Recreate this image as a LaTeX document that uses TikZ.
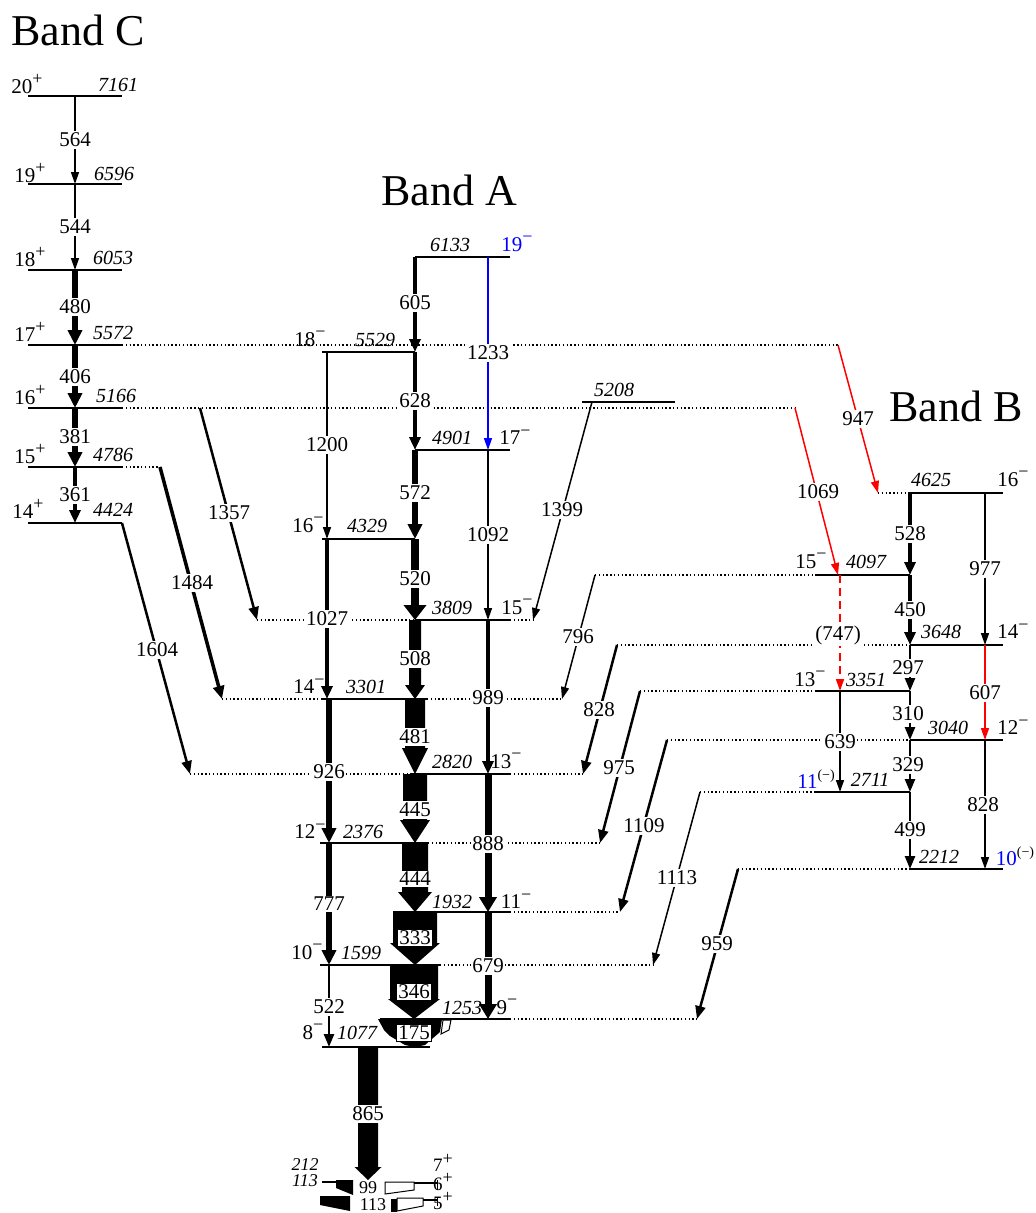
\documentclass[tikz,border=0pt]{standalone}
\usepackage{fontspec}
\setmainfont{Liberation Serif}
\usetikzlibrary{arrows.meta}
\newcommand\numf{\fontsize{21}{24}\selectfont}
\newcommand\itf{\fontsize{20}{24}\selectfont\itshape}
\newcommand\ttlf{\fontsize{44}{50}\selectfont}
\newcommand\msup{\raisebox{0.40em}{\fontsize{18}{18}\selectfont −}}
\newcommand\psup{\raisebox{0.40em}{\fontsize{18}{18}\selectfont +}}
\newcommand\bsup{\raisebox{0.45em}{\fontsize{14}{14}\selectfont (−)}}
\newcommand\fatarr[6]{%
  \fill ({#1-#4/2},#2) -- ({#1+#4/2},#2) -- ({#1+#4/2},{#3-#6}) -- ({#1+#5/2},{#3-#6}) -- (#1,#3) -- ({#1-#5/2},{#3-#6}) -- ({#1-#4/2},{#3-#6}) -- cycle;}
\begin{document}
\begin{tikzpicture}[x=1pt,y=-1pt,
  levl/.style={line width=1.2pt},
  dotl/.style={line width=1.2pt, dash pattern=on 1.3pt off 2.5pt},
  tl/.style={fill=white, inner sep=1.5pt, font=\numf},
  bx/.style={fill=white, draw, line width=1pt, inner sep=1.5pt, font=\numf},
  en/.style={inner sep=0pt, font=\itf},
  sp/.style={inner sep=0pt, font=\numf},
  ttl/.style={inner sep=0pt, font=\ttlf},
  g1/.style={line width=1.5pt, -{Triangle[length=12pt,width=8pt]}},
  g2/.style={line width=2.5pt, -{Triangle[length=13pt,width=10pt]}},
  g3/.style={line width=3.5pt, -{Triangle[length=13pt,width=11pt]}},
  g4/.style={line width=5.5pt, -{Triangle[length=15pt,width=14pt]}},
  g5/.style={line width=7pt, -{Triangle[length=15pt,width=17pt]}},
  g6/.style={line width=8.5pt, -{Triangle[length=15pt,width=22pt]}},
  rd/.style={draw=red, color=red},
  bl/.style={draw=blue, color=blue}]
\useasboundingbox (0,0) rectangle (1036,1213);

% ---------------- titles
\node[ttl] (tC) at (78,30) {Band C};
\node[ttl] (tA) at (449,190) {Band A};
\node[ttl] (tB) at (956,406) {Band B};

% ---------------- dotted connection lines
\draw[dotl] (122,345) -- (838,345);
\draw[dotl] (122,408) -- (795,408);
\draw[dotl] (122,467) -- (160,467);
\draw[dotl] (257,620) -- (415,620);
\draw[dotl] (510,620) -- (533,620);
\draw[dotl] (222,699) -- (322,699);
\draw[dotl] (427,699) -- (562,699);
\draw[dotl] (190,774) -- (410,774);
\draw[dotl] (510,774) -- (583,774);
\draw[dotl] (428,843) -- (600,843);
\draw[dotl] (510,912) -- (620,912);
\draw[dotl] (440,965) -- (653,965);
\draw[dotl] (510,1019) -- (697,1019);
\draw[dotl] (878,493) -- (910,493);
\draw[dotl] (595,575) -- (815,575);
\draw[dotl] (617,645) -- (910,645);
\draw[dotl] (640,691) -- (815,691);
\draw[dotl] (667,740) -- (910,740);
\draw[dotl] (700,792) -- (815,792);
\draw[dotl] (738,869) -- (910,869);

% ---------------- Band C levels
\foreach \y in {96,184,270,345,408,467,523} \draw[levl] (28,\y) -- (122,\y);
\node[sp] (s20) at (27,84) {20\psup};  \node[en] (e7161) at (118,85) {7161};
\node[sp] (s19) at (30,173) {19\psup}; \node[en] (e6596) at (114,174) {6596};
\node[sp] (s18) at (30,257) {18\psup}; \node[en] (e6053) at (113,258) {6053};
\node[sp] (s17) at (30,332) {17\psup}; \node[en] (e5572) at (113,333) {5572};
\node[sp] (s16) at (30,395) {16\psup}; \node[en] (e5166) at (116,396) {5166};
\node[sp] (s15) at (30,454) {15\psup}; \node[en] (e4786) at (113,455) {4786};
\node[sp] (s14) at (28,509) {14\psup}; \node[en] (e4424) at (113,510) {4424};

% Band C transitions
\draw[g1] (75,96) -- (75,184);
\draw[g1] (75,184) -- (75,270);
\draw[g4] (75,270) -- (75,345);
\draw[g4] (75,345) -- (75,408);
\draw[g4] (75,408) -- (75,467);
\draw[g3] (75,467) -- (75,523);
\node[tl] (t564) at (75,140) {564};
\node[tl] (t544) at (75,227) {544};
\node[tl] (t480) at (75,307) {480};
\node[tl] (t406) at (75,377) {406};
\node[tl] (t381) at (75,437) {381};
\node[tl] (t361) at (75,495) {361};

% C -> A transitions
\draw[g2] (122,523) -- (190,774);
\draw[g3] (160,467) -- (222,699);
\draw[g2] (200,408) -- (257,620);
\node[tl] (t1604) at (157,650) {1604};
\node[tl] (t1484) at (192,583) {1484};
\node[tl] (t1357) at (229,513) {1357};

% ---------------- Band A levels
\draw[levl] (415,257) -- (510,257);
\draw[levl] (322,352) -- (415,352);
\draw[levl] (415,450) -- (510,450);
\draw[levl] (322,539) -- (415,539);
\draw[levl] (415,620) -- (510,620);
\draw[levl] (322,699) -- (427,699);
\draw[levl] (410,774) -- (510,774);
\draw[levl] (320,843) -- (428,843);
\draw[levl] (393,912) -- (510,912);
\draw[levl] (320,965) -- (440,965);
\draw[levl] (380,1019) -- (510,1019);
\draw[levl] (322,1047) -- (430,1047);
\draw[levl] (582,402) -- (675,402);

\node[en] (e6133) at (450,245) {6133}; \node[sp, text=blue] (s19m) at (517,244) {19\msup};
\node[sp] (s18m) at (310,339) {18\msup}; \node[en] (e5529) at (375,340) {5529};
\node[en] (e4901) at (452,438) {4901}; \node[sp] (s17m) at (515,437) {17\msup};
\node[sp] (s16m) at (308,525) {16\msup}; \node[en] (e4329) at (367,526) {4329};
\node[en] (e3809) at (452,608) {3809}; \node[sp] (s15m) at (517,607) {15\msup};
\node[sp] (s14m) at (309,686) {14\msup}; \node[en] (e3301) at (366,687) {3301};
\node[en] (e2820) at (452,762) {2820}; \node[sp] (s13m) at (506,761) {13\msup};
\node[sp] (s12m) at (310,831) {12\msup}; \node[en] (e2376) at (363,832) {2376};
\node[en] (e1932) at (452,902) {1932}; \node[sp] (s11m) at (516,901) {11\msup};
\node[sp] (s10m) at (307,952) {10\msup}; \node[en] (e1599) at (361,953) {1599};
\node[en] (e1253) at (462,1008) {1253}; \node[sp] (s9m) at (507,1007) {9\msup};
\node[sp] (s8m) at (313,1032) {8\msup}; \node[en] (e1077) at (357,1033) {1077};
\node[en] (e5208) at (614,390) {5208};

% Band A transitions
\draw[g3] (415,257) -- (415,352);
\draw[g1,bl] (488,257) -- (488,450);
\draw[g3] (415,352) -- (415,450);
\draw[g1] (327,352) -- (327,539);
\draw[g4] (415,450) -- (415,539);
\draw[g1] (488,450) -- (488,620);
\draw[g6] (415,539) -- (415,620);
\draw[g3] (327,539) -- (327,699);
\fatarr{415}{620}{699}{12}{20}{14}
\draw[g3] (488,620) -- (488,774);
\fatarr{415}{699}{774}{20}{26}{26}
\draw[g4] (329,699) -- (329,843);
\fatarr{415}{774}{843}{24}{30}{23}
\draw[g5] (488,774) -- (488,912);
\fatarr{415}{843}{912}{26}{34}{20}
\draw[g4] (329,843) -- (329,965);
\fatarr{415}{912}{965}{44}{50}{22}
\draw[g5] (488,912) -- (488,1019);
\fatarr{414}{965}{1019}{48}{52}{20}
\draw[g2] (329,965) -- (329,1047);
% 175
\fill (378,1019) -- (442,1019) -- (440,1032) -- (425,1045) -- (415,1047) -- (405,1045) -- (390,1036) -- (384,1030) -- cycle;
\draw[line width=1pt, fill=white] (443,1020) -- (451,1020) -- (449,1030) -- (441,1034) -- cycle;
% 865
\fatarr{368}{1047}{1180}{20}{27}{13}

\node[tl] (t605) at (415,303) {605};
\node[tl] (t1233) at (488,353) {1233};
\node[tl] (t628) at (415,401) {628};
\node[tl] (t1200) at (327,445) {1200};
\node[tl] (t572) at (415,493) {572};
\node[tl] (t1092) at (488,535) {1092};
\node[tl] (t520) at (415,579) {520};
\node[tl] (t1027) at (327,619) {1027};
\node[tl] (t508) at (415,659) {508};
\node[tl] (t989) at (488,698) {989};
\node[tl] (t481) at (415,737) {481};
\node[tl] (t926) at (329,772) {926};
\node[tl] (t445) at (415,810) {445};
\node[tl] (t888) at (488,844) {888};
\node[tl] (t444) at (415,879) {444};
\node[tl] (t777) at (329,904) {777};
\node[bx] (t333) at (415,938) {333};
\node[tl] (t679) at (488,966) {679};
\node[bx] (t346) at (414,992) {346};
\node[tl] (t522) at (329,1007) {522};
\node[bx] (t175) at (414,1033) {175};
\node[tl] (t865) at (368,1114) {865};

% bottom levels
\draw[levl] (322,1182) -- (336,1182);
\fill (336,1180) -- (353,1180) -- (353,1195) -- (336,1188) -- cycle;
\fill (320,1196) -- (350,1196) -- (350,1211) -- (320,1205) -- cycle;
\draw[line width=1pt, fill=white] (385,1182) -- (414,1182) -- (414,1190) -- (385,1194) -- cycle;
\draw[levl] (414,1183) -- (437,1183);
\draw[line width=1pt] (437,1180) -- (437,1190);
\fill (391,1199) -- (397,1199) -- (397,1212) -- (391,1212) -- cycle;
\draw[line width=1pt, fill=white] (397,1198) -- (423,1198) -- (423,1206) -- (397,1211) -- cycle;
\draw[levl] (423,1200) -- (437,1200);
\draw[line width=1pt] (437,1197) -- (437,1206);
\node[en, font=\fontsize{18}{20}\selectfont\itshape] (e212) at (305,1165) {212};
\node[en, font=\fontsize{18}{20}\selectfont\itshape] (e113) at (305,1181) {113};
\node[inner sep=0pt, font=\fontsize{18}{20}\selectfont] (t99) at (368,1188) {99};
\node[inner sep=0pt, font=\fontsize{18}{20}\selectfont] (t113) at (373,1205) {113};
\node[sp, font=\fontsize{19}{20}\selectfont] (s7) at (443,1163) {7\psup};
\node[sp, font=\fontsize{19}{20}\selectfont] (s6) at (443,1182) {6\psup};
\node[sp, font=\fontsize{19}{20}\selectfont] (s5) at (443,1201) {5\psup};

% ---------------- Band B levels
\draw[levl] (910,493) -- (1003,493);
\draw[levl] (815,575) -- (910,575);
\draw[levl] (910,645) -- (1003,645);
\draw[levl] (815,691) -- (910,691);
\draw[levl] (910,740) -- (1003,740);
\draw[levl] (815,792) -- (910,792);
\draw[levl] (910,869) -- (1003,869);

\node[en] (e4625) at (931,480) {4625}; \node[sp] (s16b) at (1013,479) {16\msup};
\node[sp] (s15b) at (811,561) {15\msup}; \node[en] (e4097) at (866,562) {4097};
\node[en] (e3648) at (941,632) {3648}; \node[sp] (s14b) at (1013,631) {14\msup};
\node[sp] (s13b) at (810,679) {13\msup}; \node[en] (e3351) at (866,680) {3351};
\node[en] (e3040) at (948,728) {3040}; \node[sp] (s12b) at (1013,727) {12\msup};
\node[sp] (s11b) at (816,779) {\textcolor{blue}{11}\bsup}; \node[en] (e2711) at (870,780) {2711};
\node[en] (e2212) at (939,857) {2212}; \node[sp] (s10b) at (1015,856) {\textcolor{blue}{10}\bsup};

% Band B transitions
\draw[g3] (910,493) -- (910,575);
\draw[g1] (985,493) -- (985,645);
\draw[g3] (910,575) -- (910,645);
\draw[g2] (910,645) -- (910,691);
\draw[g1,rd] (985,645) -- (985,740);
\draw[g2] (910,691) -- (910,740);
\draw[g1] (840,691) -- (840,792);
\draw[g2] (910,740) -- (910,792);
\draw[g1] (985,740) -- (985,869);
\draw[g2] (910,792) -- (910,869);
\draw[g1,rd,dash pattern=on 8pt off 5pt] (840,575) -- (840,691);
\draw[g1,rd] (795,408) -- (838,575);
\draw[g1,rd] (838,345) -- (878,493);

\node[tl] (t528) at (910,534) {528};
\node[tl] (t977) at (985,569) {977};
\node[tl] (t450) at (910,610) {450};
\node[tl] (t297) at (908,668) {297};
\node[tl] (t607) at (985,693) {607};
\node[tl] (t310) at (908,714) {310};
\node[tl] (t639) at (840,742) {639};
\node[tl] (t329) at (908,765) {329};
\node[tl] (t828b) at (983,805) {828};
\node[tl] (t499) at (910,830) {499};
\node[tl] (t747) at (838,635) {(747)};
\node[tl] (t1069) at (818,492) {1069};
\node[tl] (t947) at (858,419) {947};

% B -> A transitions
\draw[g1] (592,402) -- (533,620);
\draw[g1] (595,575) -- (562,699);
\draw[g2] (617,645) -- (583,774);
\draw[g2] (640,691) -- (600,843);
\draw[g2] (667,740) -- (620,912);
\draw[g1] (700,792) -- (653,965);
\draw[g2] (738,869) -- (697,1019);
\node[tl] (t1399) at (562,510) {1399};
\node[tl] (t796) at (578,637) {796};
\node[tl] (t828) at (599,710) {828};
\node[tl] (t975) at (619,768) {975};
\node[tl] (t1109) at (644,826) {1109};
\node[tl] (t1113) at (677,878) {1113};
\node[tl] (t959) at (717,944) {959};
\end{tikzpicture}
\end{document}
